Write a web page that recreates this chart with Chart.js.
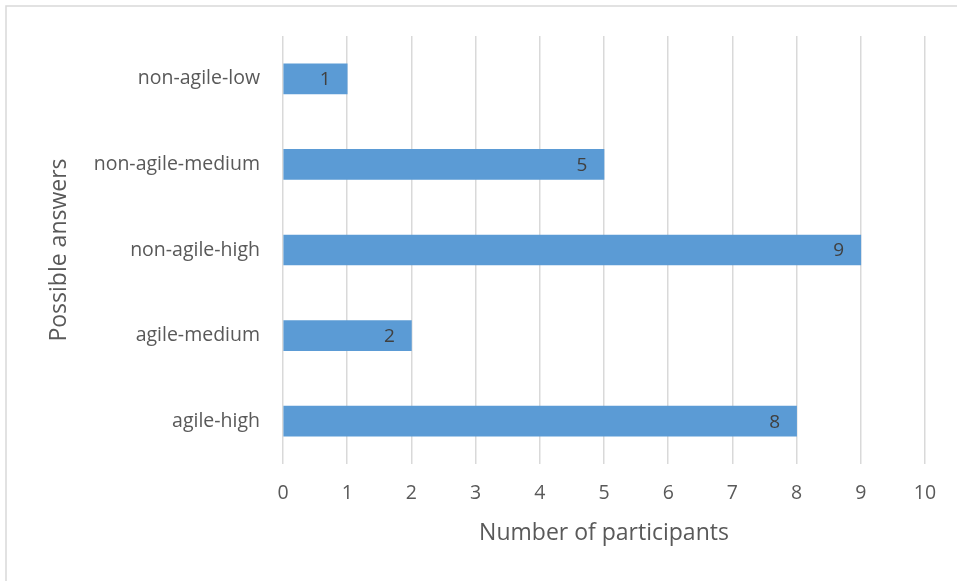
<!DOCTYPE html>
<html>
<head>
<meta charset="utf-8">
<script src="https://cdn.jsdelivr.net/npm/chart.js@4/dist/chart.umd.min.js"></script>
<style>
  html, body { margin: 0; padding: 0; background: #ffffff; }
  #wrap { position: relative; width: 957px; height: 581px; }
</style>
</head>
<body>
<div id="wrap"><canvas id="c" width="957" height="581"></canvas></div>
<script>
// Survey answers and how many participants chose each
const categories = ['non-agile-low', 'non-agile-medium', 'non-agile-high', 'agile-medium', 'agile-high'];
const participants = [1, 5, 9, 2, 8];
const xTicks = [0, 1, 2, 3, 4, 5, 6, 7, 8, 9, 10];

const FONT = "'Open Sans', 'Liberation Sans', sans-serif";
const TEXT = '#595959';

// Thin frame along the top and left edge of the figure
const framePlugin = {
  id: 'frame',
  beforeDraw(chart) {
    const ctx = chart.ctx;
    ctx.save();
    ctx.fillStyle = '#ffffff';
    ctx.fillRect(0, 0, chart.width, chart.height);
    ctx.strokeStyle = '#d9d9d9';
    ctx.lineWidth = 1.5;
    ctx.beginPath();
    ctx.moveTo(6, chart.height);
    ctx.lineTo(6, 6);
    ctx.lineTo(chart.width, 6);
    ctx.stroke();
    ctx.restore();
  }
};

// Value labels placed just inside the end of each bar
const valueLabels = {
  id: 'valueLabels',
  afterDatasetsDraw(chart) {
    const ctx = chart.ctx;
    const meta = chart.getDatasetMeta(0);
    ctx.save();
    ctx.font = `19px ${FONT}`;
    ctx.fillStyle = '#404040';
    ctx.textAlign = 'center';
    ctx.textBaseline = 'middle';
    meta.data.forEach((bar, i) => {
      ctx.fillText(String(chart.data.datasets[0].data[i]), bar.x - 22, bar.y + 1);
    });
    ctx.restore();
  }
};

new Chart(document.getElementById('c'), {
  type: 'bar',
  data: {
    labels: categories,
    datasets: [{
      data: participants,
      backgroundColor: '#5b9bd5',
      borderWidth: 0,
      barThickness: 30
    }]
  },
  options: {
    indexAxis: 'y',
    responsive: false,
    animation: false,
    layout: { padding: { left: 46, top: 36, right: 32, bottom: 34 } },
    plugins: {
      legend: { display: false },
      tooltip: { enabled: false }
    },
    scales: {
      x: {
        min: 0,
        max: 10,
        afterBuildTicks(scale) { scale.ticks = xTicks.map(v => ({ value: v })); },
        afterFit(scale) { scale.height = 83; },
        border: { display: false },
        grid: { color: '#d9d9d9', lineWidth: 1.5, drawTicks: false },
        ticks: { color: TEXT, font: { family: FONT, size: 19.5 }, padding: 18 },
        title: {
          display: true,
          text: 'Number of participants',
          color: TEXT,
          font: { family: FONT, size: 23 },
          padding: 0
        }
      },
      y: {
        afterFit(scale) { scale.width = 237; },
        border: { display: false },
        grid: { display: false, drawTicks: false },
        ticks: { color: TEXT, font: { family: FONT, size: 19.5 }, padding: 23 },
        title: {
          display: true,
          text: 'Possible answers',
          color: TEXT,
          font: { family: FONT, size: 23 },
          padding: 0
        }
      }
    }
  },
  plugins: [framePlugin, valueLabels]
});
</script>
</body>
</html>
